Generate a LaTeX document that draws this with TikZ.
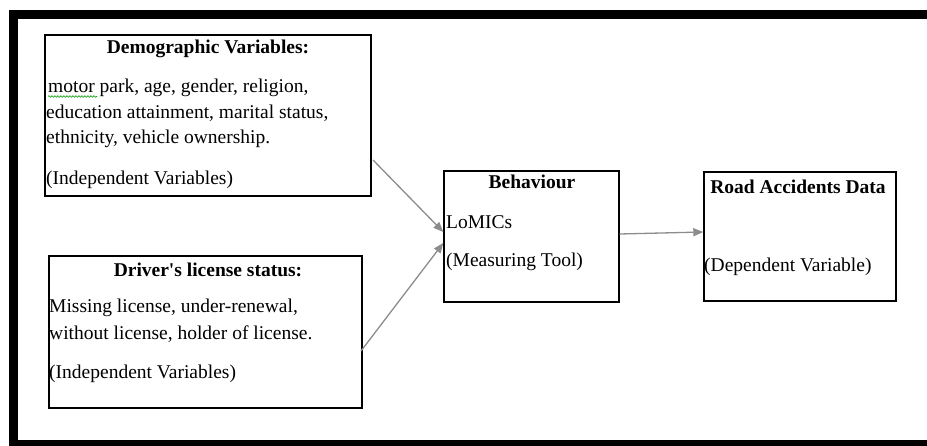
\documentclass[tikz,border=0pt]{standalone}
\usepackage{fontspec}
\setmainfont{Liberation Serif}[Ligatures=TeXOff]
\usetikzlibrary{arrows.meta,calc,decorations.pathmorphing}
\begin{document}
\begin{tikzpicture}[x=1pt,y=-1pt,
  box/.style={draw=black,line width=1.4pt,inner sep=0pt},
  txt/.style={anchor=west,inner sep=0pt,font=\fontsize{19.5}{23}\selectfont},
  ttl/.style={anchor=center,inner sep=0pt,font=\fontsize{19.5}{23}\selectfont\bfseries},
  conn/.style={draw=gray!90,line width=1.3pt,-{Triangle[length=10pt,width=8pt]}},
  frame/.style={line width=9pt,black}]
\useasboundingbox (0,0) rectangle (927,446);
\clip (0,0) rectangle (927,446);
% outer frame
\draw[frame] (940,14.5) -- (13,14.5) -- (13,444.5) -- (940,444.5);
% boxes
\node[box,minimum width=326pt,minimum height=161pt] (demo) at (208,115.5) {};
\node[box,minimum width=313pt,minimum height=152pt] (lic) at (205.5,332) {};
\node[box,minimum width=175pt,minimum height=131pt] (beh) at (531.5,236.5) {};
\node[box,minimum width=192pt,minimum height=129pt] (road) at (800,236.5) {};
% demographic text
\node[ttl] (demoT) at (208,49) {Demographic Variables:};
\node[txt] (demo1) at (48,88) {motor park, age, gender, religion,};
\node[txt] (demo2) at (46,113.5) {education attainment, marital status,};
\node[txt] (demo3) at (46,139) {ethnicity, vehicle ownership.};
\node[txt] (demo4) at (46,180) {(Independent Variables)};
\draw[green!60!black,line width=0.6pt,decorate,decoration={snake,amplitude=0.8pt,segment length=3pt}] (48,96.5) -- (97,96.5);
% license text
\node[ttl] (licT) at (208,270) {Driver's license status:};
\node[txt] (lic1) at (49,308) {Missing license, under-renewal,};
\node[txt] (lic2) at (49,334) {without license, holder of license.};
\node[txt] (lic3) at (49,374) {(Independent Variables)};
% behaviour text
\node[ttl] (behT) at (532,182) {Behaviour};
\node[txt] (beh1) at (446,222) {LoMICs};
\node[txt] (beh2) at (446,262) {(Measuring Tool)};
% road text
\node[ttl] (roadT) at (798,187) {Road Accidents Data};
\node[txt] (road1) at (704,267) {(Dependent Variable)};
% connectors
\coordinate (s1) at (373,160);
\coordinate (s2) at (361,351);
\draw[conn] (s1) -- ($(beh.west)+(0,-4.5)$);
\draw[conn] (s2) -- ($(beh.west)+(0,6.5)$);
\draw[conn] ($(beh.east)+(0,-2.5)$) -- ($(road.west)+(0,-4.5)$);
\end{tikzpicture}
\end{document}
